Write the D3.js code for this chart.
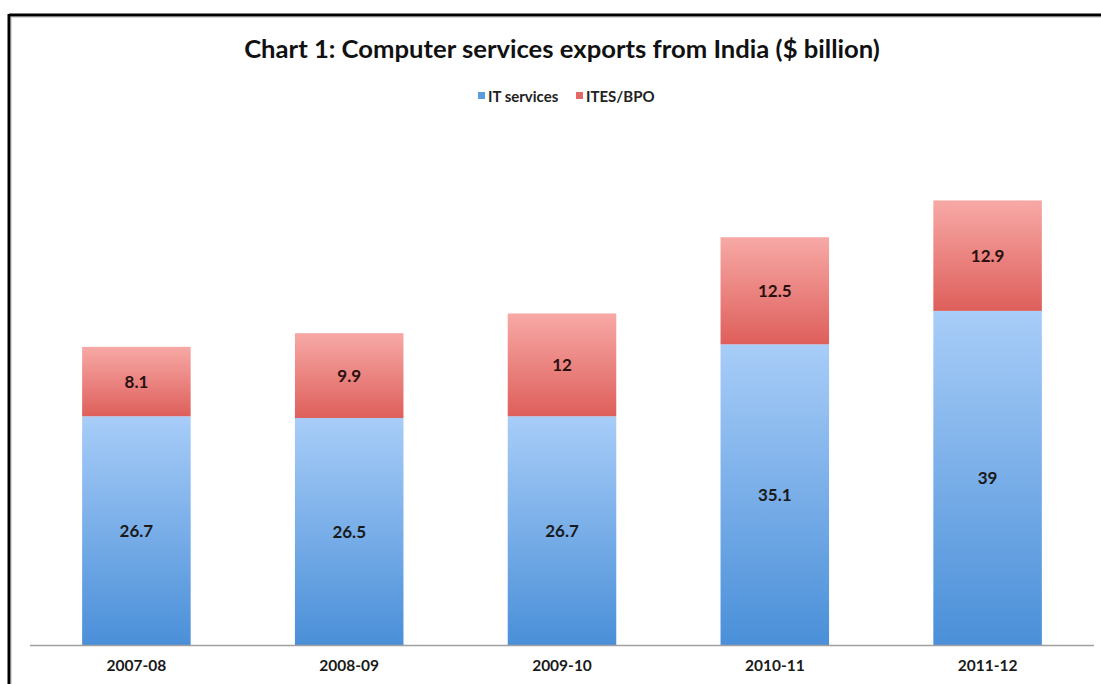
<!DOCTYPE html>
<html><head><meta charset="utf-8">
<script src="https://cdn.jsdelivr.net/npm/d3@7"></script>
<style>body{margin:0;background:#fff;} svg{display:block;}</style>
</head><body>
<svg id="c" width="1101" height="684"></svg>
<script>
const categories = ["2007-08","2008-09","2009-10","2010-11","2011-12"];
const itServices = [26.7, 26.5, 26.7, 35.1, 39];
const itesBpo = [8.1, 9.9, 12, 12.5, 12.9];
const seriesNames = ["IT services","ITES/BPO"];
const yTicks = [0, 60];

const svg = d3.select("#c");
const W = 1101, H = 684;
const font = "Lato, 'Open Sans', sans-serif";

// frame
svg.append("line").attr("x1",9).attr("x2",W).attr("y1",15).attr("y2",15).attr("stroke","#000").attr("stroke-width",3);
svg.append("line").attr("x1",9).attr("x2",9).attr("y1",14).attr("y2",H).attr("stroke","#000").attr("stroke-width",3);
svg.append("line").attr("x1",11).attr("x2",W).attr("y1",17.5).attr("y2",17.5).attr("stroke","#d8d8d8").attr("stroke-width",1);
svg.append("line").attr("x1",11.5).attr("x2",11.5).attr("y1",17).attr("y2",H).attr("stroke","#d8d8d8").attr("stroke-width",1);

const defs = svg.append("defs");
function grad(id, c1, c2){
  const g = defs.append("linearGradient").attr("id",id).attr("x1",0).attr("x2",0).attr("y1",0).attr("y2",1);
  g.append("stop").attr("offset","0%").attr("stop-color",c1);
  g.append("stop").attr("offset","100%").attr("stop-color",c2);
}
grad("gBlue","#a8cdf8","#4a8fd8");
grad("gRed","#f7a9a6","#de5f5b");

const x = d3.scaleBand().domain(categories).range([30, 1094]).paddingInner(0.49).paddingOuter(0.245);
const y = d3.scaleLinear().domain(yTicks).range([645, 131]);

const data = categories.map((c,i)=>({cat:c, it:itServices[i], bpo:itesBpo[i]}));
const stack = d3.stack().keys(["it","bpo"])(data);
const fills = ["url(#gBlue)","url(#gRed)"];

stack.forEach((layer, li)=>{
  const g = svg.append("g");
  g.selectAll("rect").data(layer).join("rect")
    .attr("x", d=>x(d.data.cat)).attr("width", x.bandwidth())
    .attr("y", d=>y(d[1])).attr("height", d=>y(d[0])-y(d[1]))
    .attr("fill", fills[li]);
  g.selectAll("text").data(layer).join("text")
    .attr("x", d=>x(d.data.cat)+x.bandwidth()/2)
    .attr("y", d=>(y(d[0])+y(d[1]))/2)
    .attr("dy","0.36em").attr("text-anchor","middle")
    .attr("font-family",font).attr("font-weight","bold").attr("font-size",17)
    .attr("fill", li===0 ? "#1a1a1a" : "#2a1010")
    .text(d=>String(li===0?d.data.it:d.data.bpo));
});

// x axis
const xa = svg.append("g").attr("transform","translate(0,645)")
  .call(d3.axisBottom(x).tickSize(0).tickPadding(15));
xa.select(".domain").attr("stroke","#a0a0a0").attr("stroke-width",1.5).attr("d","M30,0.5H1094");
xa.selectAll("text").attr("font-family",font).attr("font-weight","bold").attr("font-size",15.5).attr("fill","#1a1a1a");

// title
const t = svg.append("text").attr("x",562).attr("y",58).attr("text-anchor","middle")
  .attr("font-family",font).attr("font-weight","bold").attr("font-size",23).attr("fill","#111")
  .text("Chart 1: Computer services exports from India ($ billion)");
const tw = t.node().getComputedTextLength();
t.attr("font-size", 23*636/tw);

// legend
const legColors = ["#5b9be0","#e46966"];
const lg = svg.append("g");
const lx = [478, 576];
seriesNames.forEach((n,i)=>{
  lg.append("rect").attr("x",lx[i]).attr("y",92).attr("width",7).attr("height",7).attr("fill",legColors[i]);
  lg.append("text").attr("x",lx[i]+10).attr("y",102).attr("font-family",font).attr("font-weight","bold")
    .attr("font-size",15).attr("fill","#222").text(n);
});
</script>
</body></html>
